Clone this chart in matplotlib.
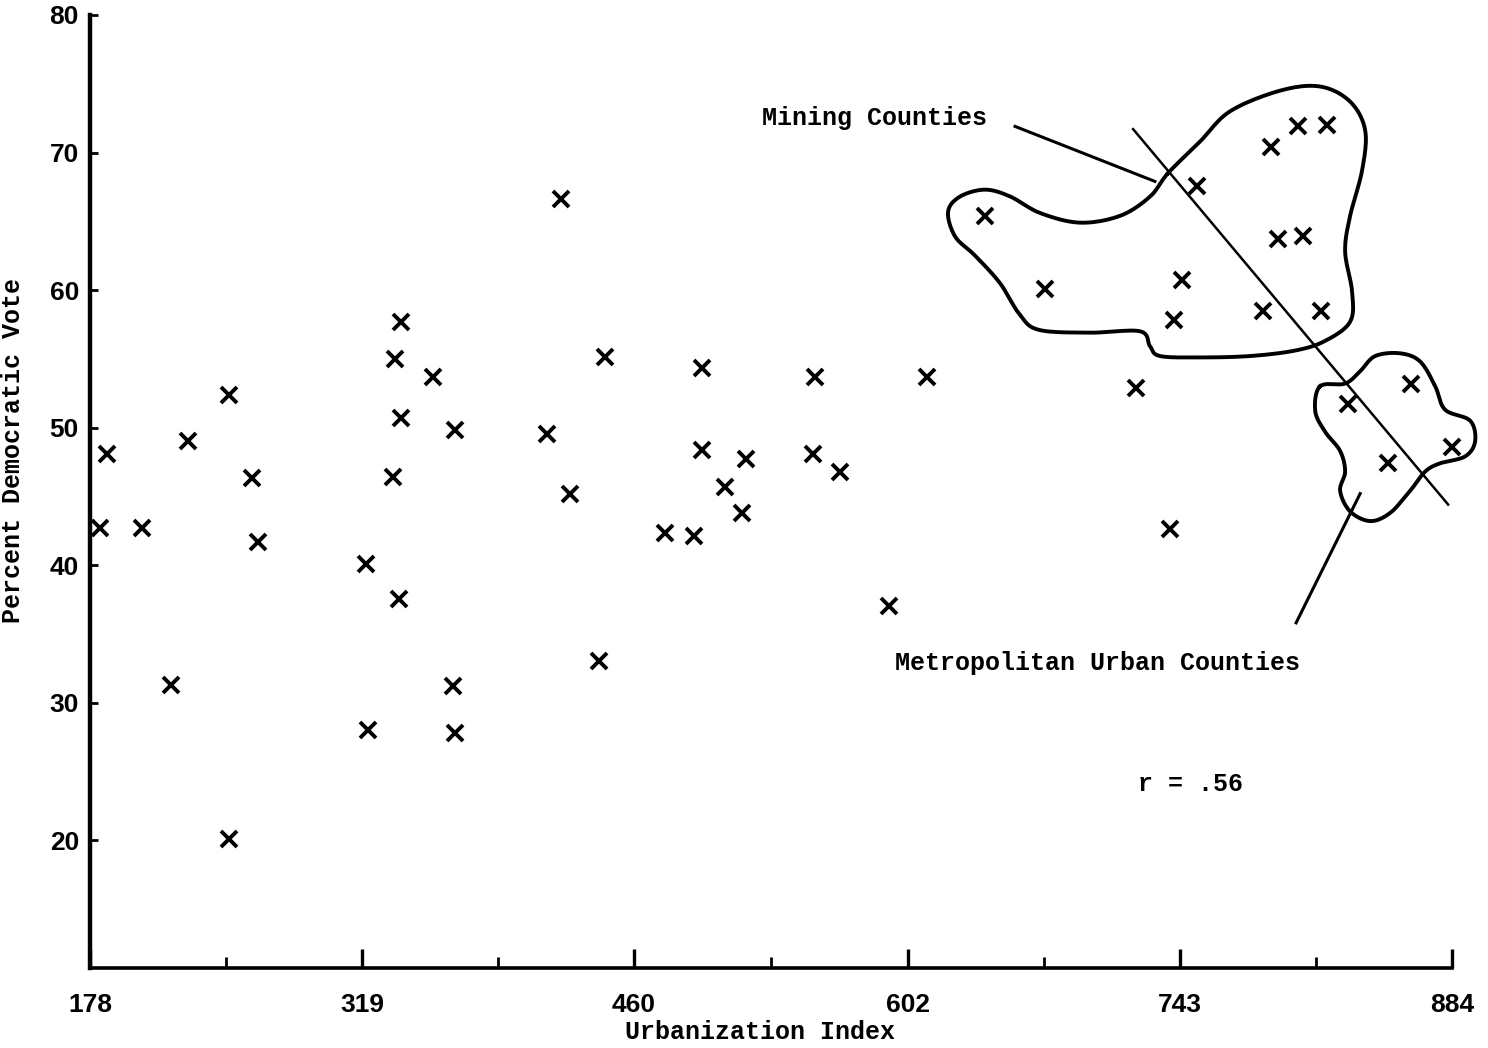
import numpy as np
import matplotlib.pyplot as plt
from matplotlib.ticker import FixedLocator

# county points
urban = [183, 187, 205, 220, 229, 250, 250, 262, 265, 321, 322, 336, 339, 339, 335, 338,
         356, 367, 366, 367, 422, 415, 427, 445, 442, 476, 491, 495, 495, 507, 518, 516,
         554, 553, 567, 592, 612, 642, 673, 720, 738, 740, 744, 752, 786, 790, 804, 819,
         794, 807, 816, 830, 851, 863, 884]
demvote = [42.7, 48.1, 42.7, 31.3, 49.0, 52.4, 20.1, 46.3, 41.7, 40.1, 28.0, 55.0, 57.7, 50.7,
           46.4, 37.5, 53.7, 49.8, 31.2, 27.8, 66.6, 49.5, 45.2, 55.1, 33.0, 42.3, 42.1, 54.3,
           48.4, 45.7, 47.7, 43.8, 53.7, 48.1, 46.8, 37.0, 53.7, 65.4, 60.1, 52.9, 42.6, 57.8,
           60.7, 67.6, 58.5, 70.4, 71.9, 72.0, 63.7, 63.9, 58.5, 51.7, 47.4, 53.2, 48.6]

xticks = [178, 319, 460, 602, 743, 884]
xminor = [248.5, 389.5, 531, 672.5, 813.5]
yticks = [20, 30, 40, 50, 60, 70, 80]

# hand-drawn outlines (data units)
mining_x = [736.8, 753.4, 769, 794.9, 815.6, 831.2, 839, 837.4, 831.2, 828.6, 832.2, 831.2,
            818.2, 802.7, 779.3, 753.4, 732.7, 727.5, 722.3, 696.4, 670, 660, 649.7,
            636.8, 626.4, 622.8, 629, 642, 655, 670.5, 691.2, 712, 727.5]
mining_y = [68.5, 70.8, 73.0, 74.5, 74.8, 73.7, 71.6, 68.7, 65.4, 62.8, 59.9, 57.7,
            56.3, 55.6, 55.2, 55.1, 55.2, 55.9, 57.0, 56.9, 57.1, 58.2, 60.5,
            62.5, 63.9, 65.7, 66.8, 67.3, 66.8, 65.6, 64.9, 65.4, 66.8]
metro_x = [815.6, 828.6, 836.4, 844.2, 857.1, 867.5, 875.3, 880.4, 893.4, 896, 890.8,
           877.8, 870.1, 862.3, 852, 841.6, 831.2, 826, 828.6, 826, 818.2, 813.1]
metro_y = [53.0, 53.2, 54.1, 55.2, 55.4, 54.8, 53.0, 51.3, 50.5, 49.0, 47.9,
           47.4, 46.8, 45.4, 43.8, 43.2, 43.9, 45.4, 46.8, 48.3, 49.7, 51.2]
divider = ([718.7, 882], [71.7, 44.4])
mining_ptr = ([657.5, 730], [71.9, 67.9])
metro_ptr = ([836.4, 803.2], [45.2, 35.8])


def smooth_closed(xs, ys, n=12):
    # closed catmull-rom through the traced vertices
    p = np.column_stack([xs, ys])
    out = []
    k = len(p)
    for i in range(k):
        p0, p1, p2, p3 = p[i - 1], p[i], p[(i + 1) % k], p[(i + 2) % k]
        for t in np.linspace(0, 1, n, endpoint=False):
            t2, t3 = t * t, t * t * t
            out.append(0.5 * (2 * p1 + (-p0 + p2) * t + (2 * p0 - 5 * p1 + 4 * p2 - p3) * t2
                              + (-p0 + 3 * p1 - 3 * p2 + p3) * t3))
    out.append(out[0])
    out = np.array(out)
    return out[:, 0], out[:, 1]


mono = ['Liberation Mono', 'DejaVu Sans Mono']
narrow = ['Liberation Sans Narrow', 'Liberation Sans', 'DejaVu Sans']

fig = plt.figure(figsize=(14.88, 10.48), dpi=100)
ax = fig.add_axes([90 / 1488, 1 - 968 / 1048, 1362 / 1488, 953 / 1048])

ax.plot(urban, demvote, linestyle='none', marker='x', color='black',
        markersize=11, markeredgewidth=2.8, clip_on=False)

mx, my = smooth_closed(mining_x, mining_y)
ax.plot(mx, my, color='black', lw=2.8, clip_on=False)
ux, uy = smooth_closed(metro_x, metro_y)
ax.plot(ux, uy, color='black', lw=2.8, clip_on=False)
ax.plot(*divider, color='black', lw=1.8, clip_on=False)
ax.plot(*mining_ptr, color='black', lw=2.2)
ax.plot(*metro_ptr, color='black', lw=2.2)

ax.text(526.4, 72.5, 'Mining Counties', family=mono, fontsize=18,
        fontweight='bold', va='center', ha='left')
ax.text(595.3, 32.9, 'Metropolitan Urban Counties', family=mono, fontsize=18,
        fontweight='bold', va='center', ha='left')
ax.text(721.3, 24.1, 'r = .56', family=mono, fontsize=18,
        fontweight='bold', va='center', ha='left')

ax.set_xlim(178, 884)
ax.set_ylim(10.7, 80)
ax.spines['top'].set_visible(False)
ax.spines['right'].set_visible(False)
ax.spines['left'].set_linewidth(3.2)
ax.spines['bottom'].set_linewidth(2.6)

ax.set_xticks(xticks)
ax.set_xticklabels([str(v) for v in xticks], family=narrow, fontsize=19, fontweight='bold')
ax.xaxis.set_minor_locator(FixedLocator(xminor))
ax.set_yticks(yticks)
ax.set_yticklabels([str(v) for v in yticks], family=narrow, fontsize=19, fontweight='bold')
ax.tick_params(axis='x', which='major', direction='in', length=14, width=2.4, pad=18)
ax.tick_params(axis='x', which='minor', direction='in', length=8, width=2.0)
ax.tick_params(axis='y', direction='in', length=6, width=2.0, pad=8)

ax.set_ylabel('Percent Democratic Vote', family=mono, fontsize=18, fontweight='bold')
ax.yaxis.set_label_coords(-0.048, 0.5435)
ax.set_xlabel('Urbanization Index', family=mono, fontsize=18, fontweight='bold', va='center')
ax.xaxis.set_label_coords(0.492, -0.067)

fig.savefig('out.png', dpi=100)
